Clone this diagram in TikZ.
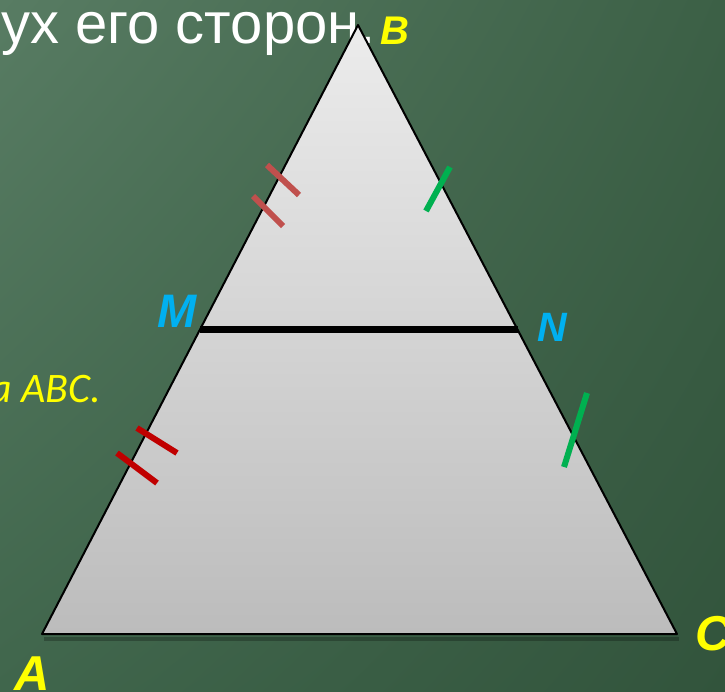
\documentclass[tikz,border=0pt]{standalone}
\usepackage{fontspec}
\setmainfont{Liberation Sans}
\newfontfamily\calib{Carlito}
\usetikzlibrary{shadings,calc}
\definecolor{bgA}{RGB}{88,124,99}
\definecolor{bgB}{RGB}{60,96,70}
\definecolor{bgC}{RGB}{64,102,76}
\definecolor{bgD}{RGB}{50,84,60}
\definecolor{triTop}{RGB}{236,236,236}
\definecolor{triBot}{RGB}{188,188,188}
\definecolor{redA}{RGB}{192,80,77}
\definecolor{redB}{RGB}{192,0,0}
\definecolor{grn}{RGB}{0,176,80}
\definecolor{cyn}{RGB}{0,176,240}
\definecolor{ylw}{RGB}{255,255,0}
\begin{document}
\begin{tikzpicture}[x=1pt,y=-1pt,
  vlabel/.style={font=\fontsize{#1}{#1}\selectfont\bfseries\itshape, inner sep=0pt},
  tickA/.style={line width=6pt, redA},
  tickB/.style={line width=6pt, redB},
  tickG/.style={line width=6pt, grn}]
\useasboundingbox (0,0) rectangle (725,691);
\clip (0,0) rectangle (725,691);
\shade[upper left=bgA, upper right=bgB, lower left=bgC, lower right=bgD] (0,0) rectangle (725,691);
% points
\coordinate (A) at (42,634);
\coordinate (B) at (358,25);
\coordinate (C) at (677,634);
\coordinate (M) at ($(A)!0.5!(B)$);
\coordinate (N) at ($(C)!0.5!(B)$);
% texts
\node[anchor=base east, inner sep=0pt, text=white, font=\fontsize{58}{58}\selectfont] (t1) at (376,43) {ух его сторон.};
\node[anchor=base east, inner sep=0pt, text=ylw, font=\calib\itshape\fontsize{42}{42}\selectfont] (t2) at (101,402) {а ABC.};
% shadow
\fill[black, opacity=0.25] (44,637) -- (679,637) -- (679,641) -- (44,641) -- cycle;
% triangle
\shade[top color=triTop, bottom color=triBot] (A) -- (B) -- (C) -- cycle;
\draw[line width=2pt, line join=round] (A) -- (B) -- (C) -- cycle;
\draw[line width=7pt] (M) -- (N);
% ticks
\draw[tickA] (267,165) -- (299,195);
\draw[tickA] (253,196) -- (283,226);
\draw[tickG] (450,167) -- (426,211);
\draw[tickB] (137,428) -- (177,453);
\draw[tickB] (117,453) -- (157,483);
\draw[tickG] (587,393) -- (564,467);
% labels
\node[vlabel=40, text=ylw] (lB) at (395,31) {B};
\node[vlabel=47, text=cyn] (lM) at (177,311) {M};
\node[vlabel=41, text=cyn] (lN) at (552,327) {N};
\node[vlabel=49, text=ylw] (lC) at (713,634) {C};
\node[vlabel=49, text=ylw] (lA) at (32,674) {A};
\end{tikzpicture}
\end{document}
